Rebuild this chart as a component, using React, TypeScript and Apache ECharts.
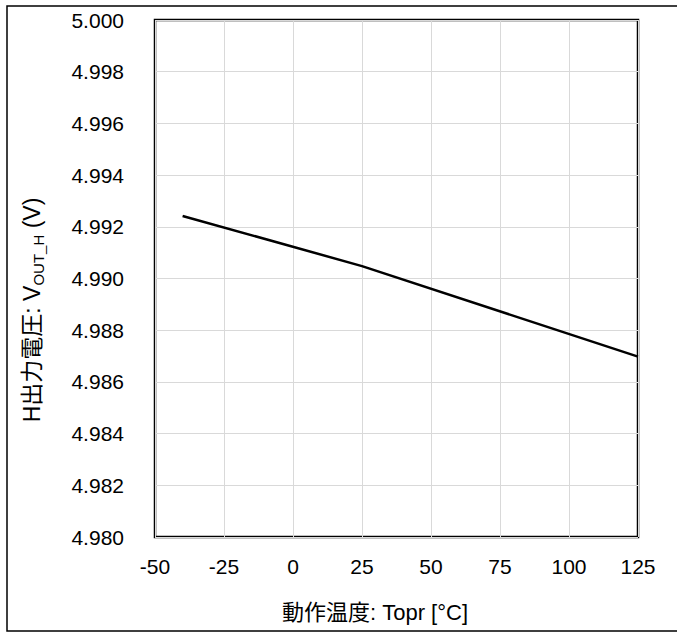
import React, { useEffect, useRef } from "react";
import * as echarts from "echarts";

const temperatures = [-40, 25, 125];
const voltages = [4.99242, 4.99048, 4.98698];
const yTicks = { min: 4.98, max: 5.0, interval: 0.002 };
const xTicks = { min: -50, max: 125, interval: 25 };
const xTitle = "動作温度: Topr [°C]";
const yTitleMain = "H出力電圧: V";
const yTitleSub = "OUT_H";
const yTitleEnd = " (V)";

export default function App() {
  const ref = useRef<HTMLDivElement>(null);
  useEffect(() => {
    if (!ref.current) return;
    const chart = echarts.init(ref.current, null, { renderer: "svg" });
    const font = "'Liberation Sans', Arial, 'Noto Sans CJK JP', sans-serif";
    chart.setOption({
      animation: false,
      backgroundColor: "#fff",
      textStyle: { fontFamily: font },
      grid: {
        left: 155,
        top: 20,
        right: 39,
        bottom: 98,
        show: true,
        borderColor: "#000",
        borderWidth: 2.5,
        containLabel: false,
      },
      xAxis: {
        type: "value",
        min: xTicks.min,
        max: xTicks.max,
        interval: xTicks.interval,
        axisLine: { show: false },
        axisTick: { show: false },
        axisLabel: { color: "#000", fontSize: 21, margin: 19, fontFamily: font },
        splitLine: { show: true, lineStyle: { color: "#d9d9d9", width: 1 } },
      },
      yAxis: {
        type: "value",
        min: yTicks.min,
        max: yTicks.max,
        interval: yTicks.interval,
        axisLine: { show: false },
        axisTick: { show: false },
        axisLabel: {
          color: "#000",
          fontSize: 21,
          margin: 31,
          fontFamily: font,
          formatter: (v: number) => v.toFixed(3),
        },
        splitLine: { show: true, lineStyle: { color: "#d9d9d9", width: 1 } },
      },
      series: [
        {
          type: "line",
          data: temperatures.map((t, i) => [t, voltages[i]]),
          showSymbol: false,
          lineStyle: { color: "#000", width: 2.5 },
          z: 5,
        },
      ],
      graphic: [
        {
          type: "rect",
          shape: { x: 7, y: 6, width: 690, height: 625 },
          style: { fill: "none", stroke: "#000", lineWidth: 1.5 },
          silent: true,
        },
        {
          type: "text",
          x: 375,
          y: 612,
          style: {
            text: xTitle,
            fontSize: 22,
            fontFamily: font,
            fill: "#000",
            align: "center",
            verticalAlign: "middle",
          },
        },
        {
          type: "text",
          x: 32,
          y: 310,
          rotation: Math.PI / 2,
          style: {
            text: `{a|${yTitleMain}}{s|${yTitleSub}}{a|${yTitleEnd}}`,
            align: "center",
            verticalAlign: "middle",
            rich: {
              a: { fontSize: 23, fontFamily: font, fill: "#000", lineHeight: 27 },
              s: { fontSize: 15, fontFamily: font, fill: "#000", lineHeight: 27, padding: [12, 0, 0, 0] },
            },
          },
        },
      ],
    });
    return () => chart.dispose();
  }, []);
  return (
    <div
      ref={ref}
      style={{ position: "absolute", left: 0, top: 0, width: 677, height: 635 }}
    />
  );
}
